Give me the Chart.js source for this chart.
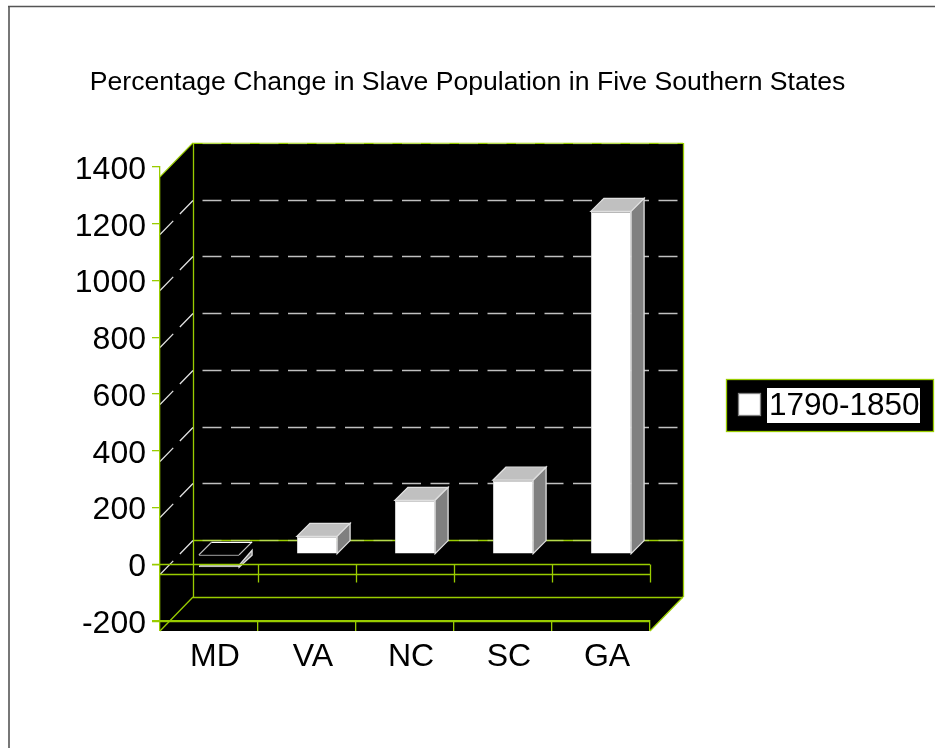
<!DOCTYPE html>
<html>
<head>
<meta charset="utf-8">
<title>Percentage Change in Slave Population</title>
<script src="https://cdn.jsdelivr.net/npm/chart.js"></script>
<style>
  html, body { margin: 0; padding: 0; background: #fff; }
  canvas { display: block; }
</style>
</head>
<body>
<canvas id="chart" width="935" height="748"></canvas>
<script>
const titleText = 'Percentage Change in Slave Population in Five Southern States';
const states = ['MD', 'VA', 'NC', 'SC', 'GA'];
const seriesName = '1790-1850';
const changeValues = [-46, 63, 190, 261, 1208];
const yTicks = [-200, 0, 200, 400, 600, 800, 1000, 1200, 1400];

const GREEN = '#99cc00';
const FONT = '"Liberation Sans", Arial, sans-serif';
const LINE_W = 1.3;
const WALL_DX = 33, WALL_DY = 24, FRONT_DY = 10;   // fake 3d offsets of the box
const BAR_SHIFT = 10, BAR_DEPTH = 13;

function line(ctx, x1, y1, x2, y2, color, dash, width) {
  ctx.save();
  ctx.strokeStyle = color;
  ctx.lineWidth = width || LINE_W;
  ctx.setLineDash(dash || []);
  ctx.beginPath();
  ctx.moveTo(x1, y1);
  ctx.lineTo(x2, y2);
  ctx.stroke();
  ctx.restore();
}

function poly(ctx, pts, fill, stroke) {
  ctx.beginPath();
  pts.forEach((p, i) => i ? ctx.lineTo(p[0], p[1]) : ctx.moveTo(p[0], p[1]));
  ctx.closePath();
  if (fill) { ctx.fillStyle = fill; ctx.fill(); }
  if (stroke) { ctx.strokeStyle = stroke; ctx.lineWidth = LINE_W; ctx.stroke(); }
}

const box3d = {
  id: 'box3d',
  beforeDraw(chart) {
    const { ctx, chartArea: a, scales: { x, y } } = chart;
    const backL = a.left + WALL_DX, backR = a.right + WALL_DX;
    const top = a.top - WALL_DY, floor = a.bottom - WALL_DY;
    ctx.save();
    ctx.fillStyle = '#fff';
    ctx.fillRect(0, 0, chart.width, chart.height);
    // page frame
    line(ctx, 9, 6.5, 9, 748, '#555', null, 1.6);
    line(ctx, 8, 6.5, 935, 6.5, '#555', null, 1.6);
    // walls
    poly(ctx, [[a.left, a.top + FRONT_DY], [backL, top], [backR, top], [backR, floor],
      [a.right, a.bottom + FRONT_DY], [a.left, a.bottom + FRONT_DY]], '#000');
    line(ctx, backL + .5, top, backL + .5, floor, GREEN);
    line(ctx, backR + .5, top, backR + .5, floor, GREEN);
    line(ctx, a.left, a.top + FRONT_DY, backL, top, GREEN);
    line(ctx, a.left, a.bottom + FRONT_DY, backL, floor, GREEN);
    line(ctx, a.right, a.bottom + FRONT_DY, backR, floor, GREEN);
    line(ctx, backL, floor + .5, backR, floor + .5, GREEN);
    line(ctx, backL, top + .5, backR, top + .5, GREEN);
    const zeroBack = Math.round(y.getPixelForValue(0) - WALL_DY) + .5;
    line(ctx, backL, zeroBack, backR, zeroBack, GREEN);
    // grid lines on back and side wall
    yTicks.forEach(v => {
      if (v === -200) return;
      const py = Math.round(y.getPixelForValue(v)) + .5;
      const strong = v === 0 || v === 1400;
      const c = strong ? 'rgba(255,255,255,0.3)' : '#c0c0c0';
      ctx.save();
      ctx.lineDashOffset = 19;
      ctx.lineWidth = LINE_W;
      ctx.strokeStyle = c;
      ctx.setLineDash([19, 9.5]);
      ctx.beginPath();
      ctx.moveTo(backL, py - WALL_DY);
      ctx.lineTo(backR, py - WALL_DY);
      ctx.stroke();
      ctx.restore();
      if (v !== 1400) {
        line(ctx, a.left, py + FRONT_DY, backL, py - WALL_DY, '#e0e0e0', [19, 9.5]);
      }
    });
    ctx.restore();
  },
  beforeDatasetDraw(chart) {
    chart.ctx.save();
    chart.ctx.translate(BAR_SHIFT, -BAR_SHIFT);
  },
  afterDatasetDraw(chart, args) {
    const ctx = chart.ctx;
    const d = BAR_DEPTH;
    ctx.save();
    args.meta.data.forEach(bar => {
      const p = bar.getProps(['x', 'y', 'base', 'width'], true);
      const l = p.x - p.width / 2, r = p.x + p.width / 2;
      const up = Math.min(p.y, p.base), low = Math.max(p.y, p.base);
      if (p.y > p.base) {
        // negative bar: only the sliver under the axis shows, top is hollow
        const hide = chart.scales.y.getPixelForValue(0) + BAR_SHIFT + 1;
        ctx.fillStyle = '#000';
        ctx.fillRect(l - 1, up - 1, p.width + 2, hide - up + 1);
        poly(ctx, [[r, low], [r + d, low - d + 1], [r + d, low - d - 4], [r, hide]], '#808080', '#e0e0e0');
        poly(ctx, [[l, up], [r, up], [r + d, up - d], [l + d, up - d]], '#000', null);
        line(ctx, l, up + .5, r, up + .5, '#808080');
        line(ctx, l, up, l + d, up - d, '#c0c0c0');
        line(ctx, r, up, r + d, up - d, '#c0c0c0');
        line(ctx, l + d, up - d + .5, r + d, up - d + .5, '#fff');
      } else {
        poly(ctx, [[l, up], [r, up], [r + d, up - d], [l + d, up - d]], '#c0c0c0', '#e0e0e0');
        poly(ctx, [[r, up], [r + d, up - d], [r + d, low - d], [r, low]], '#808080', '#e0e0e0');
      }
    });
    ctx.restore();
    ctx.restore();
  },
  afterDatasetsDraw(chart) {
    const { ctx, chartArea: a, scales: { x, y } } = chart;
    // front lines of the zero plane, over the bars
    const zero = Math.round(y.getPixelForValue(0)) + .5;
    line(ctx, a.left - 8, zero, a.right, zero, GREEN);
    line(ctx, a.left, zero + FRONT_DY, a.right, zero + FRONT_DY, GREEN);
    const low = Math.round(y.getPixelForValue(-200)) + .5;
    line(ctx, a.left - 8, low, a.right, low, GREEN);
    const step = x.getPixelForTick(1) - x.getPixelForTick(0);
    states.forEach((s, i) => {
      const px = Math.round(x.getPixelForTick(i) + step / 2) + .5;
      line(ctx, px, zero, px, zero + 18, GREEN);
    });
    // legend
    ctx.save();
    ctx.fillStyle = '#000';
    ctx.fillRect(726.5, 379.5, 207, 52);
    ctx.strokeStyle = GREEN;
    ctx.lineWidth = LINE_W;
    ctx.strokeRect(726.5, 379.5, 207, 52);
    ctx.fillStyle = '#fff';
    ctx.strokeStyle = '#808080';
    ctx.fillRect(738.5, 393.5, 22, 22);
    ctx.strokeRect(738.5, 393.5, 22, 22);
    ctx.fillStyle = '#fff';
    ctx.fillRect(767, 388, 153, 35);
    ctx.fillStyle = '#000';
    ctx.font = '31.5px ' + FONT;
    ctx.textBaseline = 'middle';
    ctx.textAlign = 'left';
    ctx.fillText(seriesName, 769, 406);
    ctx.restore();
  }
};

new Chart(document.getElementById('chart'), {
  type: 'bar',
  data: {
    labels: states,
    datasets: [{
      label: seriesName,
      data: changeValues,
      backgroundColor: '#ffffff',
      borderColor: '#e0e0e0',
      borderWidth: 1,
      barPercentage: 0.41,
      categoryPercentage: 1
    }]
  },
  options: {
    responsive: false,
    animation: false,
    devicePixelRatio: 1,
    plugins: {
      legend: { display: false },
      tooltip: { enabled: false },
      title: {
        display: true,
        text: titleText,
        color: '#000',
        font: { family: FONT, size: 26.6, weight: 'normal' },
        padding: { top: 67, bottom: 68 }
      }
    },
    scales: {
      x: {
        grid: { color: GREEN, lineWidth: LINE_W, drawOnChartArea: false, tickLength: 10 },
        border: { color: GREEN, width: LINE_W },
        ticks: { color: '#000', font: { family: FONT, size: 32 }, padding: 7, labelOffset: 6, maxRotation: 0 },
        afterFit(scale) { scale.height = 127; }
      },
      y: {
        min: -200,
        max: 1400,
        grid: { color: GREEN, lineWidth: LINE_W, drawOnChartArea: false, tickLength: 8 },
        border: { color: GREEN, width: LINE_W },
        ticks: {
          color: '#000',
          stepSize: 200,
          font: { family: FONT, size: 32 },
          padding: 6,
          labelOffset: 3,
          format: { useGrouping: false }
        },
        afterFit(scale) { scale.width = 160; }
      },
      // empty axis, keeps the room on the right for the legend
      spacer: {
        position: 'right',
        grid: { display: false },
        border: { display: false },
        ticks: { display: false },
        afterFit(scale) { scale.width = 285; }
      }
    }
  },
  plugins: [box3d]
});
</script>
</body>
</html>
